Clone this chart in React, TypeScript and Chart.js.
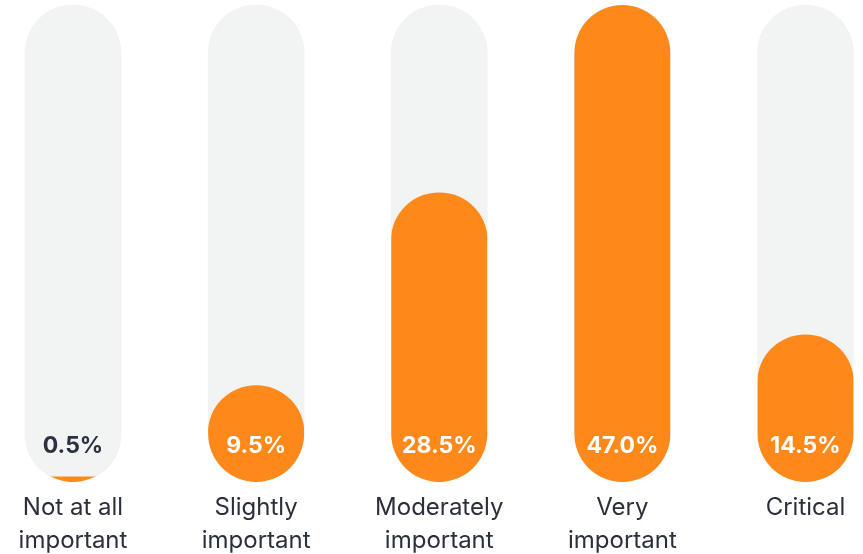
import React, { useEffect, useRef } from "react";
import { Chart, registerables } from "chart.js";

Chart.register(...registerables);

const categories: string[][] = [
  ["Not at all", "important"],
  ["Slightly", "important"],
  ["Moderately", "important"],
  ["Very", "important"],
  ["Critical"],
];
const values: number[] = [0.5, 9.5, 28.5, 47.0, 14.5];
const trackMax = 47;
const trackValues: number[] = [trackMax, trackMax, trackMax, trackMax, trackMax];

const ORANGE = "#FD891A";
const TRACK = "#F2F3F3";
const DARK = "#2B3140";

const clipPlugin = {
  id: "clipToTrack",
  beforeDatasetDraw(chart: any, args: any) {
    if (args.index !== 0) return;
    const ctx = chart.ctx;
    const track = chart.getDatasetMeta(1).data;
    ctx.save();
    ctx.beginPath();
    track.forEach((el: any) => {
      const w = el.width;
      const top = Math.min(el.y, el.base);
      const h = Math.abs(el.base - el.y);
      ctx.roundRect(el.x - w / 2, top, w, h, w / 2);
    });
    ctx.clip();
  },
  afterDatasetDraw(chart: any, args: any) {
    if (args.index !== 0) return;
    chart.ctx.restore();
  },
};

const valueLabelPlugin = {
  id: "valueLabels",
  afterDatasetsDraw(chart: any) {
    const ctx = chart.ctx;
    const meta = chart.getDatasetMeta(0);
    const y0 = chart.scales.y.getPixelForValue(0);
    ctx.save();
    ctx.font = "bold 23px Inter, 'Open Sans', sans-serif";
    ctx.textAlign = "center";
    ctx.textBaseline = "middle";
    meta.data.forEach((el: any, i: number) => {
      const v = values[i];
      ctx.fillStyle = v < 3 ? DARK : "#FFFFFF";
      ctx.fillText(v.toFixed(1) + "%", el.x, y0 - 36);
    });
    ctx.restore();
  },
};

export default function App() {
  const ref = useRef<HTMLCanvasElement>(null);
  useEffect(() => {
    if (!ref.current) return;
    const chart = new Chart(ref.current, {
      type: "bar",
      data: {
        labels: categories,
        datasets: [
          {
            data: values,
            backgroundColor: ORANGE,
            borderRadius: 48,
            borderSkipped: false,
            barThickness: 96,
            grouped: false,
            order: 0,
            clip: false,
          } as any,
          {
            data: trackValues,
            backgroundColor: TRACK,
            borderRadius: 48,
            borderSkipped: false,
            barThickness: 96,
            grouped: false,
            order: 1,
            clip: false,
          } as any,
        ],
      },
      options: {
        animation: false,
        responsive: false,
        devicePixelRatio: 1,
        layout: { padding: { left: 73, right: 57.5, top: 5, bottom: 0 } },
        plugins: { legend: { display: false }, tooltip: { enabled: false } },
        scales: {
          x: {
            offset: false,
            grid: { display: false, drawTicks: false },
            border: { display: false },
            afterFit: (scale: any) => {
              scale.height = 72;
            },
            ticks: {
              padding: 9,
              color: "#2A2F3A",
              font: { family: "Inter, 'Open Sans', sans-serif", size: 24, lineHeight: 1.375 },
              maxRotation: 0,
              autoSkip: false,
            },
          },
          y: {
            display: false,
            min: 0,
            max: trackMax,
          },
        },
      },
      plugins: [clipPlugin, valueLabelPlugin],
    });
    return () => chart.destroy();
  }, []);
  return (
    <div style={{ position: "fixed", left: 0, top: 0, width: 863, height: 554, background: "#fff" }}>
      <canvas ref={ref} width={863} height={554} />
    </div>
  );
}
